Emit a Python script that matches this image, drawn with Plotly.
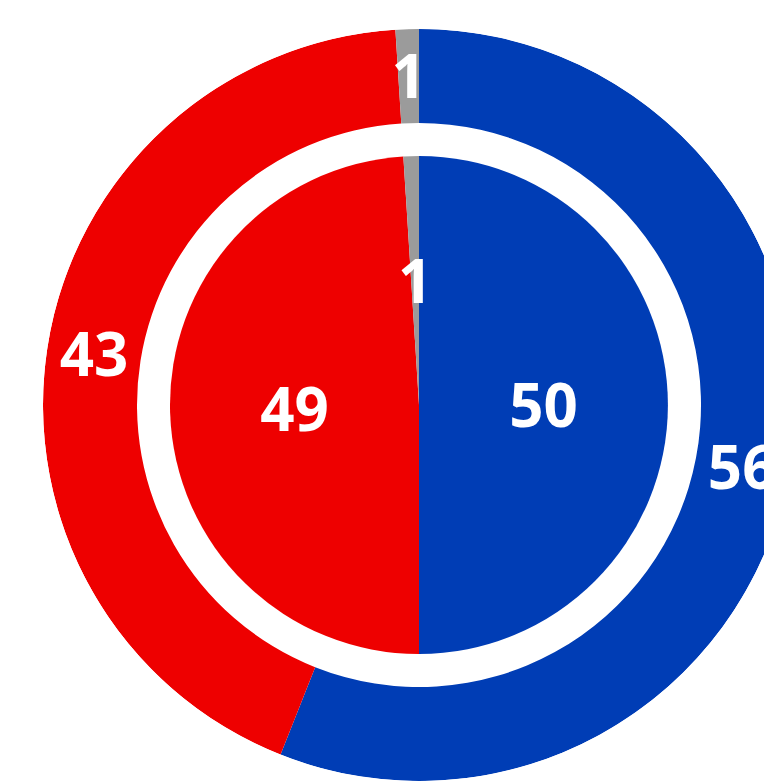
import plotly.graph_objects as go

labels = ["Blue", "Red", "Other"]
outer_values = [56, 43, 1]
inner_values = [50, 49, 1]
colors = ["#003DB5", "#EE0000", "#9B9B9B"]

# geometry (figure pixels)
W, H = 822, 782
CX, CY = 411, 397
R_OUT = 376
R_OUT_IN = 282
R_IN = 249
TEXT_DY = 7  # text baseline nudge (pixels downward)


def angles(values):
    total = sum(values)
    widths = [v / total * 360 for v in values]
    mids, start = [], 0.0
    for w in widths:
        mids.append(start + w / 2)
        start += w
    return mids, widths


out_mid, out_w = angles(outer_values)
in_mid, in_w = angles(inner_values)

font = dict(family="Open Sans", size=60, color="white", weight="bold")

fig = go.Figure()
fig.add_trace(go.Barpolar(
    theta=out_mid, width=out_w,
    r=[R_OUT - R_OUT_IN] * len(outer_values), base=[R_OUT_IN] * len(outer_values),
    marker=dict(color=colors, line=dict(width=0)),
    text=labels, customdata=outer_values,
    hovertemplate="%{text}: %{customdata}<extra></extra>",
    showlegend=False,
))
fig.add_trace(go.Barpolar(
    theta=in_mid, width=in_w,
    r=[R_IN] * len(inner_values), base=[0] * len(inner_values),
    marker=dict(color=colors, line=dict(width=0)),
    text=labels, customdata=inner_values,
    hovertemplate="%{text}: %{customdata}<extra></extra>",
    showlegend=False,
))
fig.add_trace(go.Scatterpolar(
    theta=out_mid, r=[(R_OUT + R_OUT_IN) / 2] * len(outer_values),
    mode="text", text=[str(v) for v in outer_values],
    textposition="middle center", textfont=font,
    hoverinfo="skip", showlegend=False, subplot="polar2",
))
fig.add_trace(go.Scatterpolar(
    theta=in_mid, r=[R_IN / 2] * len(inner_values),
    mode="text", text=[str(v) for v in inner_values],
    textposition="middle center", textfont=font,
    hoverinfo="skip", showlegend=False, subplot="polar2",
))

dom_x = [(CX - R_OUT) / W, (CX + R_OUT) / W]
dom_y = [(H - CY - R_OUT) / H, (H - CY + R_OUT) / H]
dom_y2 = [(H - CY - R_OUT - TEXT_DY) / H, (H - CY + R_OUT - TEXT_DY) / H]

polar_common = dict(
    bgcolor="rgba(0,0,0,0)",
    radialaxis=dict(range=[0, R_OUT], visible=False, showgrid=False),
    angularaxis=dict(direction="clockwise", rotation=90, visible=False,
                     showgrid=False, thetaunit="degrees"),
    bargap=0,
)

fig.update_layout(
    width=W, height=H,
    margin=dict(l=0, r=0, t=0, b=0),
    paper_bgcolor="white",
    showlegend=False,
    polar=dict(domain=dict(x=dom_x, y=dom_y), **polar_common),
    polar2=dict(domain=dict(x=dom_x, y=dom_y2), **polar_common),
)
fig.write_html("out.html")
